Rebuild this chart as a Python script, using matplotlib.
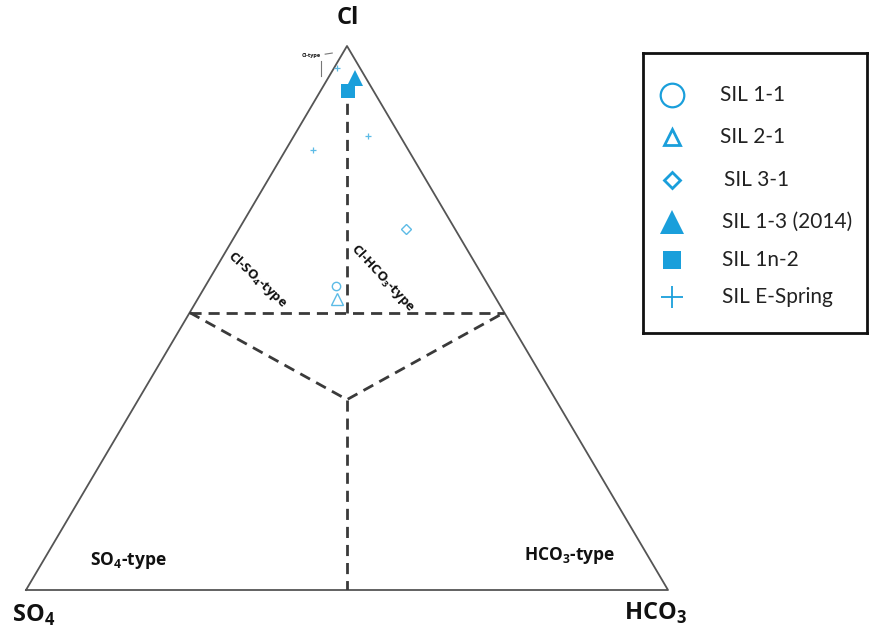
import numpy as np
import matplotlib
matplotlib.use('Agg')
import matplotlib.pyplot as plt

# -------------------------------------------------------------------------------------
# Fonts
plt.rcParams['font.family'] = ['Lato', 'DejaVu Sans']
plt.rcParams['mathtext.fontset'] = 'custom'
plt.rcParams['mathtext.bf'] = 'Open Sans:bold'
plt.rcParams['mathtext.rm'] = 'Open Sans'

# -------------------------------------------------------------------------------------
# Data (fractions Cl, SO4, HCO3)
sample_names = ['SIL 1-1', 'SIL 2-1', 'SIL 3-1', 'SIL 1-3 (2014)', 'SIL 1n-2', 'SIL E-Spring']
sample_cl = [[0.559], [0.535], [0.664], [0.941], [0.917], [0.809, 0.835, 0.960]]
sample_so4 = [[0.238], [0.248], [0.076], [0.017], [0.040], [0.148, 0.050, 0.036]]
sample_hco3 = [[0.203], [0.217], [0.260], [0.042], [0.043], [0.043, 0.115, 0.004]]

# boundaries between water types
bound_cl_mix = 0.51
bound_cl_top = 0.9
bound_centre = (0.35, 0.325, 0.325)

# -------------------------------------------------------------------------------------
# Styles
color_main = '#1a9fdb'
color_pts = '#5cbbe6'
marker_style = [
    dict(marker='o', mfc='none', ms=6, mew=1.0),
    dict(marker='^', mfc='none', ms=8, mew=1.0),
    dict(marker='D', mfc='none', ms=5, mew=1.0),
    dict(marker='^', ms=11, mew=0),
    dict(marker='s', ms=10, mew=0),
    dict(marker='+', ms=5, mew=0.9),
]
legend_style = [
    dict(marker='o', mfc='none', ms=17, mew=1.6),
    dict(marker='^', mfc='none', ms=12, mew=2.0),
    dict(marker='D', mfc='none', ms=8.5, mew=2.0),
    dict(marker='^', ms=17, mew=0),
    dict(marker='s', ms=13, mew=0),
    dict(marker='+', ms=16, mew=1.3),
]


def tern2xy(cl, so4, hco3):
    cl = np.asarray(cl, dtype=float)
    hco3 = np.asarray(hco3, dtype=float)
    so4 = np.asarray(so4, dtype=float)
    tot = cl + so4 + hco3
    return hco3 / tot + 0.5 * cl / tot, cl / tot


# -------------------------------------------------------------------------------------
fig = plt.figure(figsize=(8.7, 6.3), dpi=100)
ax = fig.add_axes([26 / 870, 40 / 630, 642 / 870, 544 / 630])
ax.set_xlim(0, 1)
ax.set_ylim(0, 1)
ax.axis('off')

# triangle outline
ax.plot([0, 1, 0.5, 0], [0, 0, 1, 0], color='#555555', lw=1.3, clip_on=False, zorder=2)

# dashed type boundaries
dash_kw = dict(color='#3a3a3a', lw=2.0, ls=(0, (4, 2.5)), zorder=2)
left_x, left_y = tern2xy(bound_cl_mix, 1 - bound_cl_mix, 0)
right_x, right_y = tern2xy(bound_cl_mix, 0, 1 - bound_cl_mix)
cen_x, cen_y = tern2xy(*bound_centre)
mid_x, mid_y = tern2xy(bound_cl_mix, (1 - bound_cl_mix) / 2, (1 - bound_cl_mix) / 2)
top_x, top_y = tern2xy(bound_cl_top, (1 - bound_cl_top) / 2, (1 - bound_cl_top) / 2)
bot_x, bot_y = tern2xy(0, 0.5, 0.5)
ax.plot([left_x, right_x], [left_y, right_y], **dash_kw)
ax.plot([left_x, cen_x, right_x], [left_y, cen_y, right_y], **dash_kw)
ax.plot([cen_x, bot_x], [cen_y, bot_y], **dash_kw)
ax.plot([mid_x, top_x], [mid_y, top_y], **dash_kw)

# samples
for i_s, name in enumerate(sample_names):
    px, py = tern2xy(sample_cl[i_s], sample_so4[i_s], sample_hco3[i_s])
    col = color_main if i_s in (3, 4) else color_pts
    ax.plot(px, py, ls='none', color=col, mec=col, zorder=4, **marker_style[i_s])

# labels
bold = dict(fontweight='bold', color='#111111', ha='center', va='center',
            family=['Open Sans', 'DejaVu Sans'])
ax.text(0.5016, 1.051, 'Cl', fontsize=17, clip_on=False, **bold)
ax.text(0.0125, -0.047, r'SO$_\mathbf{4}$', fontsize=17, clip_on=False, **bold)
ax.text(0.981, -0.043, r'HCO$_\mathbf{3}$', fontsize=17, clip_on=False, **bold)
ax.text(0.159, 0.055, r'SO$_\mathbf{4}$-type', fontsize=12.5, **bold)
ax.text(0.847, 0.064, r'HCO$_\mathbf{3}$-type', fontsize=12.5, **bold)
ax.text(0.360, 0.570, r'Cl-SO$_\mathbf{4}$-type', fontsize=9.5, rotation=-43, **bold)
ax.text(0.556, 0.574, r'Cl-HCO$_\mathbf{3}$-type', fontsize=9.5, rotation=-47, **bold)
ax.text(0.444, 0.983, 'Cl-type', fontsize=4, **bold)
ax.plot([0.459, 0.459], [0.944, 0.972], color='#777777', lw=0.8)
ax.plot([0.466, 0.477], [0.985, 0.987], color='#777777', lw=0.8)

# legend box
ax_lg = fig.add_axes([643 / 870, (630 - 333) / 630, 224 / 870, 280 / 630])
ax_lg.set_xlim(0, 224)
ax_lg.set_ylim(280, 0)
ax_lg.set_xticks([])
ax_lg.set_yticks([])
for sp in ax_lg.spines.values():
    sp.set_linewidth(2.0)
    sp.set_color('#111111')
legend_row = [42, 84, 127, 169, 207, 244]
legend_text_x = [77, 77, 81, 79, 79, 79]
for i_s, name in enumerate(sample_names):
    ax_lg.plot([29], [legend_row[i_s]], ls='none', color=color_main, mec=color_main,
               **legend_style[i_s])
    ax_lg.text(legend_text_x[i_s], legend_row[i_s], name, fontsize=15, color='#222222',
               ha='left', va='center')

fig.savefig('out.png', dpi=100)
